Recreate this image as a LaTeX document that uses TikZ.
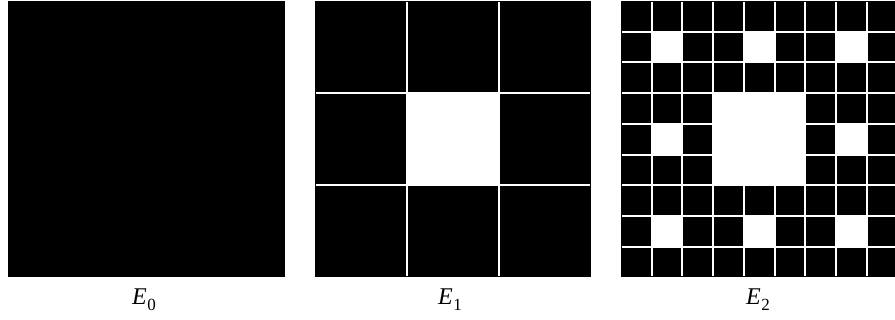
\documentclass[tikz,border=0pt]{standalone}
\usepackage{fontspec}
\setmainfont{Liberation Serif}
\newcommand{\lbl}[1]{\textit{E}\kern0.5pt\raisebox{-0.22em}{\fontsize{17}{17}\selectfont #1}}
\begin{document}
\begin{tikzpicture}[x=1pt,y=-1pt,
  sq/.style={fill=black},
  gridline/.style={draw=white,line width=2pt},
  hole/.style={fill=white},
  lab/.style={font=\fontsize{24}{24}\selectfont,inner sep=0pt,anchor=base}]
\useasboundingbox (0,0) rectangle (895,320);
\def\s{276.5}
% E0
\fill[sq] (8,1) rectangle ++(\s,\s);
\node[lab] (l0) at (144,305) {\lbl{0}};
% E1
\begin{scope}[shift={(314.5,1)}]
\fill[sq] (0,0) rectangle (\s,\s);
\fill[hole] (\s/3,\s/3) rectangle (2*\s/3,2*\s/3);
\foreach \i in {1,2}{
  \draw[gridline] (\i*\s/3,1) -- (\i*\s/3,\s-1);
  \draw[gridline] (1,\i*\s/3) -- (\s-1,\i*\s/3);
}
\end{scope}
\node[lab] (l1) at (450,305) {\lbl{1}};
% E2
\begin{scope}[shift={(621,1)}]
\fill[sq] (0,0) rectangle (\s,\s);
\fill[hole] (\s/3,\s/3) rectangle (2*\s/3,2*\s/3);
\foreach \a in {0,1,2}{
  \foreach \b in {0,1,2}{
    \fill[hole] (\a*\s/3+\s/9,\b*\s/3+\s/9) rectangle ++(\s/9,\s/9);
  }
}
\foreach \i in {1,...,8}{
  \draw[gridline] (\i*\s/9,1) -- (\i*\s/9,\s-1);
  \draw[gridline] (1,\i*\s/9) -- (\s-1,\i*\s/9);
}
\end{scope}
\node[lab] (l2) at (758,305) {\lbl{2}};
\end{tikzpicture}
\end{document}
